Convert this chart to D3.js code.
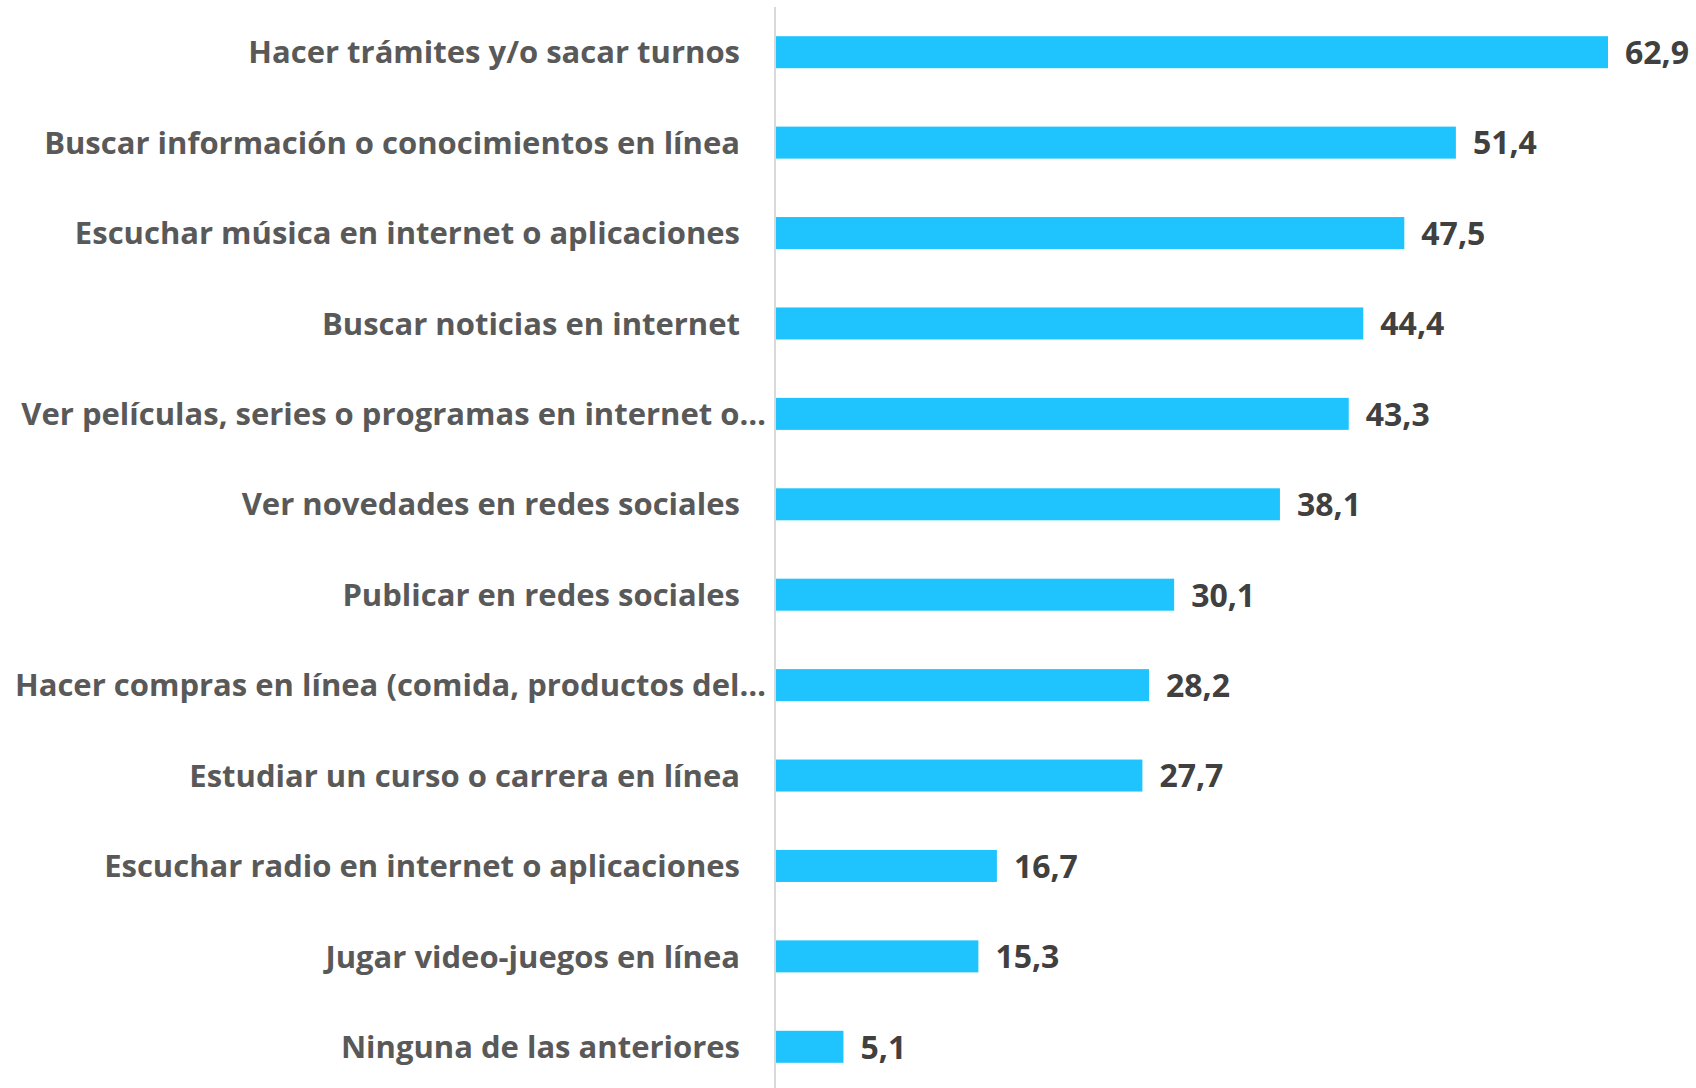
<!DOCTYPE html>
<html>
<head>
<meta charset="utf-8">
<script src="https://cdn.jsdelivr.net/npm/d3@7"></script>
<style>
  body { margin: 0; background: #fff; }
  svg { display: block; }
</style>
</head>
<body>
<svg id="chart" width="1696" height="1088"></svg>
<script>
// datos de la figura
const categories = [
  'Hacer trámites y/o sacar turnos',
  'Buscar información o conocimientos en línea',
  'Escuchar música en internet o aplicaciones',
  'Buscar noticias en internet',
  'Ver películas, series o programas en internet o…',
  'Ver novedades en redes sociales',
  'Publicar en redes sociales',
  'Hacer compras en línea (comida, productos del…',
  'Estudiar un curso o carrera en línea',
  'Escuchar radio en internet o aplicaciones',
  'Jugar video-juegos en línea',
  'Ninguna de las anteriores'
]
const values = [62.9, 51.4, 47.5, 44.4, 43.3, 38.1, 30.1, 28.2, 27.7, 16.7, 15.3, 5.1]

const data = categories.map((name, i) => ({ name, value: values[i] }))

const svg = d3.select('#chart')
const fontFamily = "'Open Sans', 'Noto Sans', sans-serif"

const x = d3.scaleLinear()
  .domain([0, 62.9])
  .range([776, 1608])

const y = d3.scaleBand()
  .domain(categories)
  .range([7, 1092])
  .paddingInner(0.646)
  .paddingOuter(0.323)

// barras
svg.append('g')
  .selectAll('rect')
  .data(data)
  .enter()
  .append('rect')
  .attr('x', x(0))
  .attr('y', d => y(d.name))
  .attr('width', d => x(d.value) - x(0))
  .attr('height', y.bandwidth())
  .attr('fill', '#1FC4FF')

// eje vertical
svg.append('line')
  .attr('x1', x(0) - 1)
  .attr('x2', x(0) - 1)
  .attr('y1', 7)
  .attr('y2', 1088)
  .attr('stroke', '#d9d9d9')
  .attr('stroke-width', 2)

// etiquetas de categorías
svg.append('g')
  .selectAll('text')
  .data(data)
  .enter()
  .append('text')
  .attr('x', d => d.name.endsWith('…') ? 766 : 740)
  .attr('y', d => y(d.name) + y.bandwidth() / 2)
  .attr('dy', '0.36em')
  .attr('text-anchor', 'end')
  .attr('font-family', fontFamily)
  .attr('font-weight', 700)
  .attr('font-size', 31)
  .attr('fill', '#595959')
  .text(d => d.name)

// valores
svg.append('g')
  .selectAll('text')
  .data(data)
  .enter()
  .append('text')
  .attr('x', d => x(d.value) + 17)
  .attr('y', d => y(d.name) + y.bandwidth() / 2)
  .attr('dy', '0.37em')
  .attr('font-family', fontFamily)
  .attr('font-weight', 700)
  .attr('font-size', 32)
  .attr('fill', '#404040')
  .text(d => d3.format('.1f')(d.value).replace('.', ','))
</script>
</body>
</html>
